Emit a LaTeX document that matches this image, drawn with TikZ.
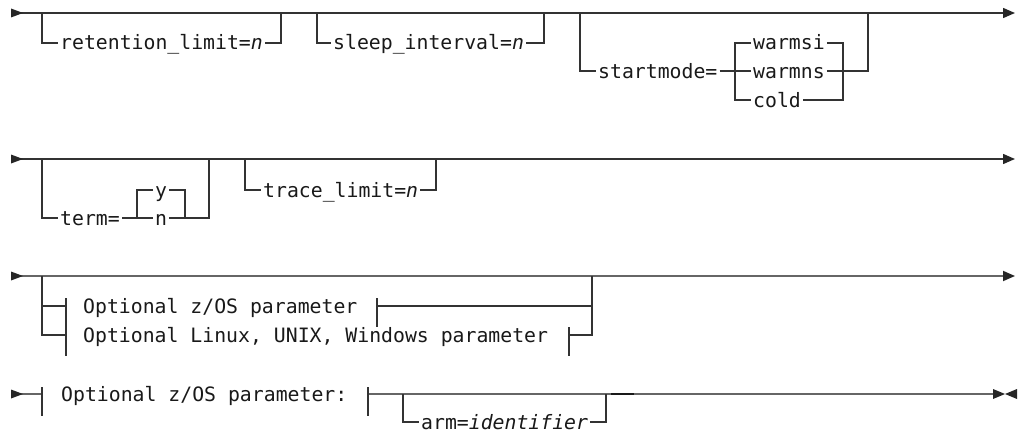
\documentclass[tikz,border=0pt]{standalone}
\usepackage{fontspec}
\usetikzlibrary{arrows.meta}
\newfontfamily\railfont{DejaVu Sans Mono}

\begin{document}
\begin{tikzpicture}[x=1pt, y=-1pt]
        \tikzstyle{rail} = [draw, black!80, line width=1.4pt]
        \tikzstyle{main} = [draw, black!60, line width=1.8pt]
        \tikzstyle{lbl} = [anchor=west, inner xsep=2pt, inner ysep=0pt, text height=16pt, text depth=2pt, text=black!90, font=\railfont\fontsize{19.8}{22}\selectfont]
        \tikzstyle{fin} = [-{Triangle[length=12pt, width=10pt, color=black!85]}]

        \useasboundingbox (0,0) rectangle (1018,436);

        % first line
        \coordinate (s1) at (11,13);
        \coordinate (e1) at (1015,13);
        \coordinate (a1) at (42,13);
        \coordinate (a2) at (281,13);
        \coordinate (a3) at (317,13);
        \coordinate (a4) at (544,13);
        \coordinate (a5) at (580,13);
        \coordinate (a6) at (868,13);
        \coordinate (b1) at (735,43);
        \coordinate (b2) at (843,43);

        \node[lbl] (ret) at (58,43) {retention\_limit=\textit{n}};
        \node[lbl] (slp) at (331,43) {sleep\_interval=\textit{n}};
        \node[lbl] (sm) at (596,71) {startmode=};
        \node[lbl] (wsi) at (751,43) {warmsi};
        \node[lbl] (wns) at (751,71) {warmns};
        \node[lbl] (cold) at (751,100) {cold};

        \path[rail, fin] (s1) to (e1);
        \fill[black!85] (s1) ++(0,-4.5) -- ++(12,4.5) -- ++(-12,4.5) -- cycle;
        \path[rail] (a1) |- (ret.west);
        \path[rail] (ret.east) -| (a2);
        \path[rail] (a3) |- (slp.west);
        \path[rail] (slp.east) -| (a4);
        \path[rail] (a5) |- (sm.west);
        \path[rail] (sm.east) to (wns.west);
        \path[rail] (wsi.west) -- (b1) |- (cold.west);
        \path[rail] (wsi.east) -- (b2) |- (cold.east);
        \path[rail] (wns.east) -| (a6);

        % second line
        \coordinate (s2) at (11,159);
        \coordinate (e2) at (1015,159);
        \coordinate (c1) at (42,159);
        \coordinate (c2) at (209,159);
        \coordinate (c3) at (245,159);
        \coordinate (c4) at (436,159);
        \coordinate (d1) at (137,190);
        \coordinate (d2) at (185,190);

        \node[lbl] (trm) at (58,218) {term=};
        \node[lbl] (yes) at (153,190) {y};
        \node[lbl] (no) at (153,218) {n};
        \node[lbl] (trc) at (261,190) {trace\_limit=\textit{n}};

        \path[rail, fin] (s2) to (e2);
        \fill[black!85] (s2) ++(0,-4.5) -- ++(12,4.5) -- ++(-12,4.5) -- cycle;
        \path[rail] (c1) |- (trm.west);
        \path[rail] (trm.east) to (no.west);
        \path[rail] (yes.west) -- (d1) |- (no.west);
        \path[rail] (yes.east) -- (d2) |- (no.east);
        \path[rail] (no.east) -| (c2);
        \path[rail] (c3) |- (trc.west);
        \path[rail] (trc.east) -| (c4);

        % third line
        \coordinate (s3) at (11,276);
        \coordinate (e3) at (1015,276);
        \coordinate (g1) at (42,276);
        \coordinate (g2) at (592,276);
        \coordinate (t1) at (66,306);
        \coordinate (t2) at (66,335);
        \coordinate (t3) at (377,306);
        \coordinate (t4) at (569,335);

        \node[lbl] (zos) at (81,306) {Optional z/OS parameter};
        \node[lbl] (lux) at (81,335) {Optional Linux, UNIX, Windows parameter};

        \path[main, fin] (s3) to (e3);
        \fill[black!85] (s3) ++(0,-4.5) -- ++(12,4.5) -- ++(-12,4.5) -- cycle;
        \path[rail] (g1) |- (t2);
        \path[rail] (g1 |- t1) to (t1);
        \path[rail] (t1) ++(0,-8) -- ++(0,29);
        \path[rail] (t2) ++(0,-8) -- ++(0,29);
        \path[rail] (t3) ++(0,-8) -- ++(0,29);
        \path[rail] (t4) ++(0,-8) -- ++(0,29);
        \path[rail] (t3) -| (g2);
        \path[rail] (t4) -| (g2);

        % fourth line
        \coordinate (s4) at (11,394);
        \coordinate (e4) at (993,394);
        \coordinate (h1) at (42,394);
        \coordinate (h2) at (368,394);
        \coordinate (k1) at (403,394);
        \coordinate (k2) at (606,394);
        \coordinate (m1) at (611,394);
        \coordinate (m2) at (634,394);

        \node[lbl] (zpar) at (59,394) {Optional z/OS parameter:};
        \node[lbl] (arm) at (419,422) {arm=\textit{identifier}};

        \path[main] (s4) to (h1);
        \path[main] (h2) to (e4);
        \fill[black!85] (s4) ++(0,-4.5) -- ++(12,4.5) -- ++(-12,4.5) -- cycle;
        \fill[black!85] (e4) ++(0,-5) -- ++(12,5) -- ++(-12,5) -- cycle;
        \fill[black!85] (e4) ++(24,-5) -- ++(-12,5) -- ++(12,5) -- cycle;
        \path[rail] (h1) ++(0,-7) -- ++(0,29);
        \path[rail] (h2) ++(0,-7) -- ++(0,29);
        \path[rail] (k1) |- (arm.west);
        \path[rail] (arm.east) -| (k2);
        \path[draw, black!90, line width=2.2pt] (m1) to (m2);
\end{tikzpicture}
\end{document}
